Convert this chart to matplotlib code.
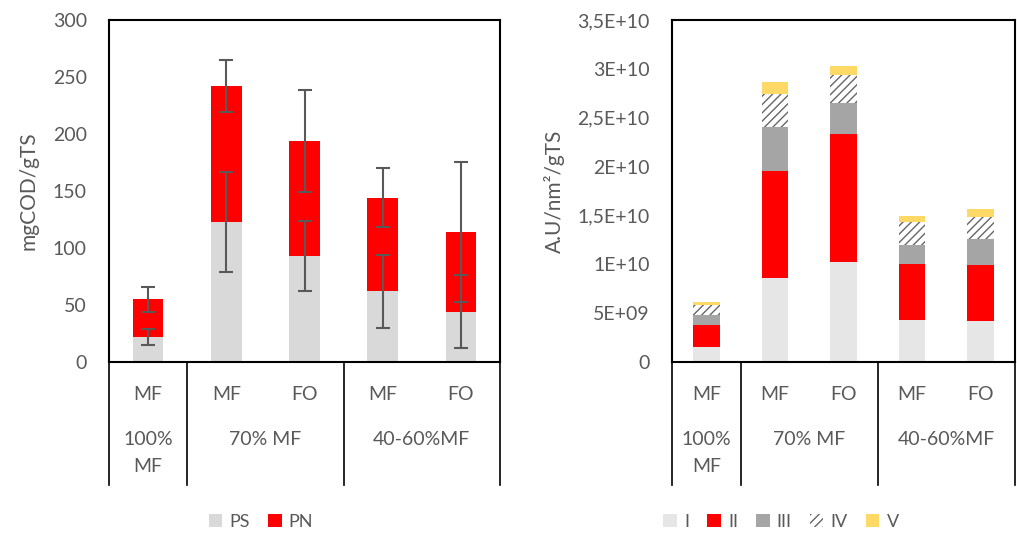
import numpy as np
import matplotlib.pyplot as plt

plt.rcParams['font.family'] = ['Lato', 'DejaVu Sans']

# data
sub_labels = ["MF", "MF", "FO", "MF", "FO"]
group_labels = ["100%\nMF", "70% MF", "40-60%MF"]
group_centers = [0, 1.5, 3.5]
group_edges = [-0.5, 0.5, 2.5, 4.5]

ps = [22, 123, 93, 62, 44]
pn = [33, 119, 101, 82, 70]
ps_err = [7, 44, 31, 32, 32]
tot_err = [11, 23, 45, 26, 61]

frac_I = [1.55e9, 8.60e9, 10.24e9, 4.34e9, 4.20e9]
frac_II = [2.28e9, 10.93e9, 13.08e9, 5.73e9, 5.70e9]
frac_III = [0.99e9, 4.47e9, 3.17e9, 1.95e9, 2.70e9]
frac_IV = [0.99e9, 3.45e9, 2.91e9, 2.28e9, 2.22e9]
frac_V = [0.35e9, 1.16e9, 0.85e9, 0.69e9, 0.85e9]

left_ticks = [0, 50, 100, 150, 200, 250, 300]
right_ticks = [0, 5e9, 1e10, 1.5e10, 2e10, 2.5e10, 3e10, 3.5e10]
right_tick_labels = ["0", "5E+09", "1E+10", "1,5E+10", "2E+10", "2,5E+10", "3E+10", "3,5E+10"]

txt = '#595959'
W, H = 1017, 533
fig = plt.figure(figsize=(W / 100, H / 100), dpi=100)

def px_axes(x0, x1, y0, y1):
    return fig.add_axes([x0 / W, (H - y1) / H, (x1 - x0) / W, (y1 - y0) / H])

def style(ax):
    ax.set_xlim(-0.5, 4.5)
    ax.set_xticks([])
    for s in ax.spines.values():
        s.set_color('black')
        s.set_linewidth(1.5)
    ax.tick_params(axis='y', length=0, pad=16, labelsize=14, labelcolor=txt)
    h = 342.0
    tr = ax.get_xaxis_transform()
    for i, lab in enumerate(sub_labels):
        ax.text(i, -32 / h, lab, transform=tr, ha='center', va='center',
                fontsize=14, color=txt)
    for c, lab in zip(group_centers, group_labels):
        ax.text(c, -69 / h, lab, transform=tr, ha='center', va='top',
                fontsize=14, color=txt, linespacing=1.75)
    for e in group_edges:
        ax.plot([e, e], [0, -123 / h], transform=tr, color='black', lw=1.2,
                clip_on=False)

x = np.arange(len(sub_labels))
bw = 0.39
leg_kw = dict(loc='center', frameon=False, fontsize=13, handlelength=0.75,
              handleheight=0.75, handletextpad=0.4, columnspacing=1.0, labelcolor=txt)

# left chart
ax1 = px_axes(109, 500, 20, 362)
tot = np.array(ps) + np.array(pn)
b1 = ax1.bar(x, ps, bw, color='#D9D9D9', label='PS')
b2 = ax1.bar(x, pn, bw, bottom=ps, color='#FF0000', label='PN')
ax1.errorbar(x, ps, yerr=ps_err, fmt='none', ecolor=txt, elinewidth=1.5, capsize=5, capthick=1.5)
ax1.errorbar(x, tot, yerr=tot_err, fmt='none', ecolor=txt, elinewidth=1.5, capsize=5, capthick=1.5)
ax1.set_ylim(0, 300)
ax1.set_yticks(left_ticks)
ax1.set_ylabel('mgCOD/gTS', fontsize=15, color=txt)
ax1.yaxis.set_label_coords((38 - 109) / 391, 0.5)
style(ax1)
fig.legend(handles=[b1, b2], bbox_to_anchor=(261 / W, 1 - 522 / H), ncol=2, **leg_kw)

# right chart
ax2 = px_axes(672, 1015, 20, 362)
bottom = np.zeros(len(x))
series = [
    (frac_I, 'I', dict(color='#E7E6E6')),
    (frac_II, 'II', dict(color='#FF0000')),
    (frac_III, 'III', dict(color='#A5A5A5')),
    (frac_IV, 'IV', dict(facecolor='white', edgecolor='#666666', hatch='////', linewidth=0)),
    (frac_V, 'V', dict(color='#FFD966')),
]
handles = []
for vals, name, kw in series:
    b = ax2.bar(x, vals, bw, bottom=bottom, label=name, **kw)
    handles.append(b)
    bottom += np.array(vals)
ax2.set_ylim(0, 3.5e10)
ax2.set_yticks(right_ticks)
ax2.set_yticklabels(right_tick_labels)
ax2.set_ylabel('A.U/nm²/gTS', fontsize=15, color=txt)
ax2.yaxis.set_label_coords((565 - 672) / 343, 0.5)
style(ax2)
fig.legend(handles=handles, bbox_to_anchor=(781 / W, 1 - 522 / H), ncol=5, **leg_kw)

fig.savefig('out.png', dpi=100)
